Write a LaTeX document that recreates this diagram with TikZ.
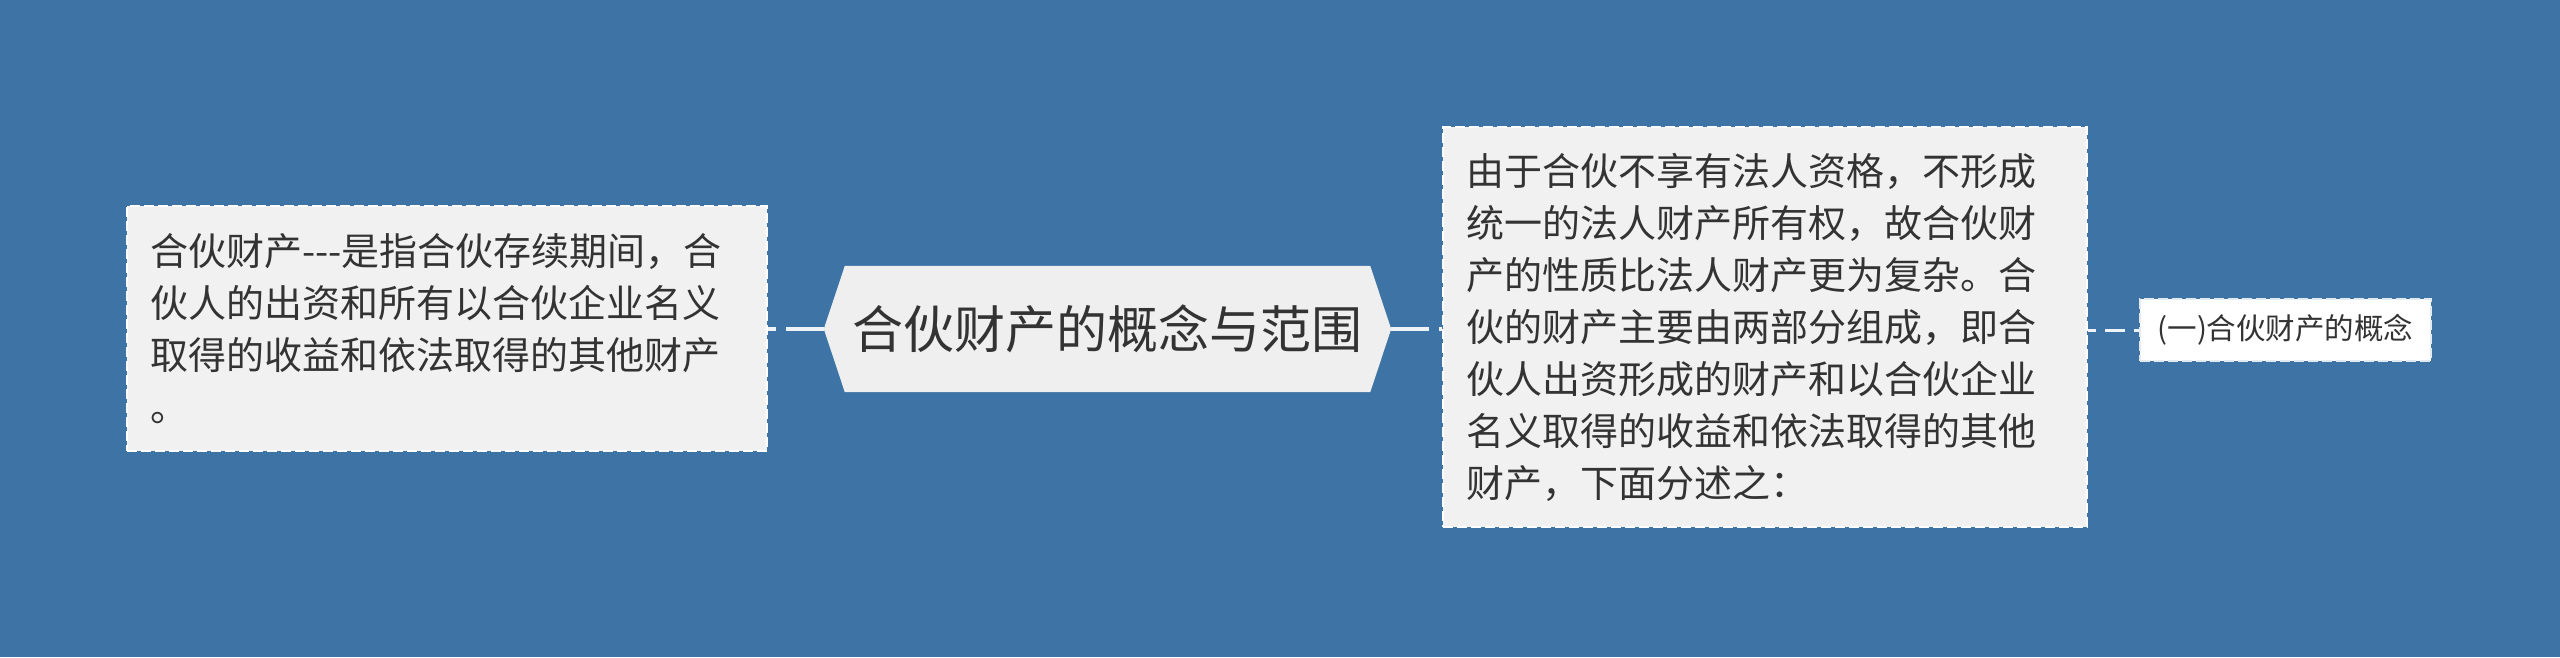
\documentclass[tikz,border=0pt]{standalone}
\usepackage{fontspec}
\newfontfamily\cjk{Noto Sans CJK SC}
\definecolor{bgblue}{HTML}{3D73A5}
\definecolor{boxfill}{HTML}{F1F1F1}
\definecolor{hexfill}{HTML}{EFEFEF}
\definecolor{txt}{HTML}{333333}
\definecolor{linkc}{HTML}{EEF3F8}
\tikzset{
  textbox/.style={rectangle, fill=boxfill, draw=white, line width=2.5pt,
    dash pattern=on 10pt off 4pt, text=txt, align=left, inner sep=0pt,
    font=\cjk\fontsize{38}{52}\selectfont},
  smallbox/.style={rectangle, fill=white, draw=white!85!bgblue, line width=2.5pt,
    dash pattern=on 10pt off 4pt, text=txt, inner sep=0pt,
    font=\cjk\fontsize{29.5}{34}\selectfont},
  centre/.style={rectangle, inner sep=0pt, text=txt,
    font=\cjk\fontsize{51}{60}\selectfont},
  mainlink/.style={draw=linkc, line width=4pt, dash pattern=on 38pt off 10pt},
  sublink/.style={draw=linkc, line width=3pt, dash pattern=on 20pt off 9pt, dash phase=15pt}
}
\begin{document}
\begin{tikzpicture}[x=1pt,y=-1pt]
\fill[bgblue] (0,0) rectangle (2560,657);
\useasboundingbox (0,0) rectangle (2560,657);

% left box
\node[textbox, minimum width=640pt, minimum height=245pt, text width=594pt] (lbox) at (447,328.5)
 {合伙财产-{}-{}-是指合伙存续期间，合\\伙人的出资和所有以合伙企业名义\\取得的收益和依法取得的其他财产\\。};

% centre hexagon
\node[minimum width=567pt, minimum height=126pt, inner sep=0pt] (ctr) at (1107.5,329) {};
\fill[hexfill] (ctr.west) -- ([xshift=21pt]ctr.north west) -- ([xshift=-21pt]ctr.north east)
  -- (ctr.east) -- ([xshift=-21pt]ctr.south east) -- ([xshift=21pt]ctr.south west) -- cycle;
\node[centre] (ctrtext) at (ctr.center) {合伙财产的概念与范围};

% right box
\node[textbox, minimum width=644pt, minimum height=400pt, text width=598pt] (rbox) at (1765,327)
 {由于合伙不享有法人资格，不形成\\统一的法人财产所有权，故合伙财\\产的性质比法人财产更为复杂。合\\伙的财产主要由两部分组成，即合\\伙人出资形成的财产和以合伙企业\\名义取得的收益和依法取得的其他\\财产，下面分述之：};

% small box
\node[smallbox, minimum width=291pt, minimum height=62pt] (sbox) at (2285.5,330) {(一)合伙财产的概念};

% connectors
\draw[mainlink] (ctr.west) -- (lbox.east |- ctr.west);
\draw[mainlink] (ctr.east) -- (rbox.west |- ctr.east);
\draw[sublink] (sbox.west) -- (rbox.east |- sbox.west);
\end{tikzpicture}
\end{document}
